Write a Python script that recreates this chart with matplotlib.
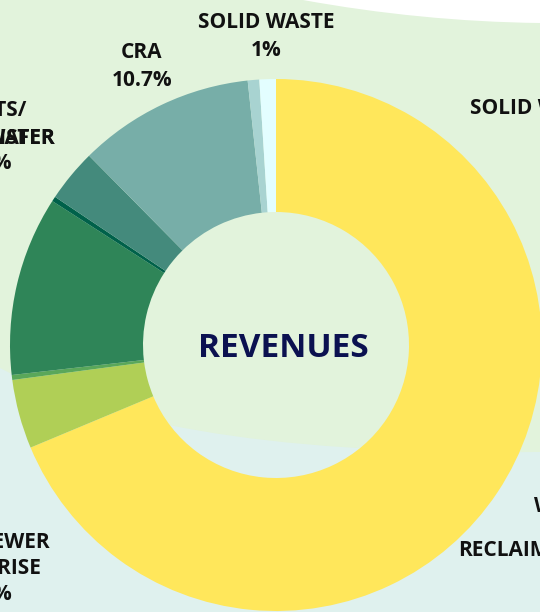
import matplotlib.pyplot as plt
from matplotlib.path import Path
from matplotlib.patches import PathPatch, Rectangle

plt.rcParams["font.family"] = ["Open Sans", "DejaVu Sans"]

# revenue shares, clockwise from 12 o'clock
segments = ["Reclaimed water", "Sewer enterprise", "Other 1", "Grants/stormwater",
            "Other 2", "Transfers", "CRA", "Other 3", "Solid waste"]
shares = [68.7, 4.2, 0.3, 10.9, 0.3, 3.2, 10.7, 0.7, 1.0]
colors = ["#ffe75b", "#b0cf56", "#5aa75a", "#2f8558", "#00614a",
          "#448a7c", "#77aea8", "#a8d3d1", "#e3feff"]

W, H = 540, 612
fig = plt.figure(figsize=(W / 100, H / 100), dpi=100)

# background shapes (pixel coords)
bg = fig.add_axes([0, 0, 1, 1])
bg.set_xlim(0, W)
bg.set_ylim(H, 0)
bg.axis("off")
bg.add_patch(Rectangle((0, 0), W, H, color="#dff1ee", zorder=0))
green = Path([(0, 0), (0, 368), (100, 420), (250, 455), (540, 452), (540, 0), (0, 0)],
             [Path.MOVETO, Path.LINETO, Path.CURVE4, Path.CURVE4, Path.CURVE4,
              Path.LINETO, Path.CLOSEPOLY])
bg.add_patch(PathPatch(green, facecolor="#e2f3dc", edgecolor="none", zorder=1))
white = Path([(303, 0), (380, 14), (460, 22), (540, 23), (540, 0), (303, 0)],
             [Path.MOVETO, Path.CURVE4, Path.CURVE4, Path.CURVE4,
              Path.LINETO, Path.CLOSEPOLY])
bg.add_patch(PathPatch(white, facecolor="white", edgecolor="none", zorder=2))

# donut, center at (276, 345) px, radius 266 px
cx, cy, R = 276, 345, 266
ax = fig.add_axes([0, 0, 1, 1])
ax.patch.set_alpha(0)
ax.pie(shares, colors=colors, startangle=90, counterclock=False, radius=1,
       wedgeprops=dict(width=0.5, linewidth=0))
ax.set_xlim((0 - cx) / R, (W - cx) / R)
ax.set_ylim((cy - H) / R, cy / R)
ax.set_aspect("auto")
ax.axis("off")

ax.text(0.027, -0.012, "REVENUES", ha="center", va="center", fontsize=24,
        fontweight="bold", color="#0b1150")

lab = dict(fontsize=15, fontweight="bold", color="#111111", va="center")

def put(x, y, s, ha):
    fig.text(x / W, 1 - (y + 3) / H, s, ha=ha, **lab)

put(266, 20, "SOLID WASTE", "center")
put(266, 48, "1%", "center")
put(142, 50, "CRA", "center")
put(142, 78, "10.7%", "center")
put(470, 105, "SOLID WASTE", "left")
put(27, 107, "GRANTS/", "right")
put(55, 135, "STORMWATER", "right")
put(55, 135, "TRANSFER", "right")
put(12, 161, "3.2%", "right")
put(534, 504, "WATER", "left")
put(458, 548, "RECLAIMED", "left")
put(50, 540, "SEWER", "right")
put(41, 566, "ENTERPRISE", "right")
put(12, 592, "4.2%", "right")

fig.savefig("out.png", dpi=100)
